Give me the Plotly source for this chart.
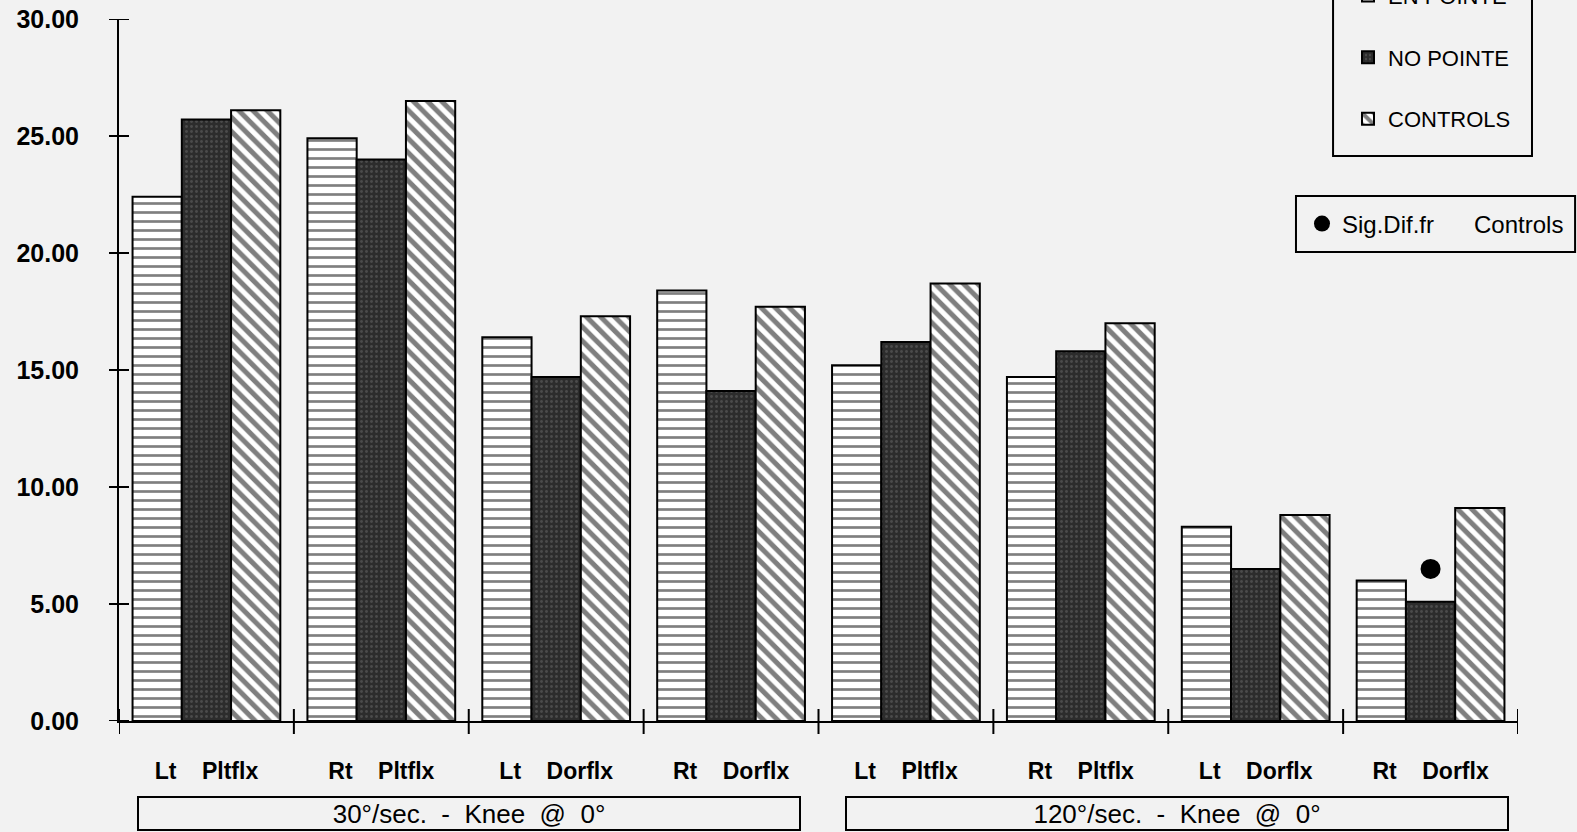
import plotly.graph_objects as go

# ---------------- data ----------------
groups = ["30°/sec.\u00a0\u00a0-\u00a0\u00a0Knee\u00a0\u00a0@\u00a0\u00a00°",
          "120°/sec.\u00a0\u00a0-\u00a0\u00a0Knee\u00a0\u00a0@\u00a0\u00a00°"]
movements = ["Lt\u00a0\u00a0\u00a0\u00a0Pltflx", "Rt\u00a0\u00a0\u00a0\u00a0Pltflx",
             "Lt\u00a0\u00a0\u00a0\u00a0Dorflx", "Rt\u00a0\u00a0\u00a0\u00a0Dorflx"]
series_names = ["EN POINTE", "NO POINTE", "CONTROLS"]
en_pointe = [22.4, 24.9, 16.4, 18.4, 15.2, 14.7, 8.3, 6.0]
no_pointe = [25.7, 24.0, 14.7, 14.1, 16.2, 15.8, 6.5, 5.1]
controls = [26.1, 26.5, 17.3, 17.7, 18.7, 17.0, 8.8, 9.1]
sig_label = "Sig.Dif.fr\u00a0\u00a0\u00a0\u00a0\u00a0\u00a0Controls"
sig_category_index = [7]
sig_values = [6.5]
y_ticks = [0, 5, 10, 15, 20, 25, 30]

# category keys (unique) and displayed labels
cat_keys = [f"{g}|{m}" for g in groups for m in movements]
cat_labels = [m for g in groups for m in movements]

BG = "#f2f2f2"
FONT = "Liberation Sans, Arial, Helvetica, sans-serif"
CLEAR = "rgba(0,0,0,0)"

patterns = [
    dict(shape="-", bgcolor="white", fgcolor="black", size=9, solidity=0.3),
    dict(shape=".", bgcolor="#2c2c2c", fgcolor="#6a6a6a", size=5, solidity=0.25),
    dict(shape="\\", bgcolor="white", fgcolor="black", size=10, solidity=0.5),
]

fig = go.Figure()
for name, vals, pat in zip(series_names, [en_pointe, no_pointe, controls], patterns):
    fig.add_trace(go.Bar(
        x=cat_keys, y=vals, name=name,
        marker=dict(color=pat["bgcolor"], pattern=pat,
                    line=dict(color="black", width=2)),
        legendgroup=name, legend="legend",
    ))

fig.add_trace(go.Scatter(
    x=[cat_keys[i] for i in sig_category_index], y=sig_values,
    mode="markers", name=sig_label,
    marker=dict(symbol="circle", size=20, color="black"),
    legend="legend2",
))

# group label boxes
box_centers = [0.25, 0.756]
for g, cx in zip(groups, box_centers):
    fig.add_annotation(
        text=g, xref="paper", yref="paper", x=cx, y=-0.132,
        xanchor="center", yanchor="middle", showarrow=False,
        width=658, height=29, bordercolor="black", borderwidth=2,
        font=dict(family=FONT, size=26, color="black"),
    )

# axis ticks that cross the axis lines
for v in y_ticks:
    fig.add_shape(type="line", xref="paper", yref="y", xsizemode="pixel",
                  xanchor=0, x0=-10, x1=10, y0=v, y1=v,
                  line=dict(color="black", width=2))
for i in range(len(cat_keys) + 1):
    fig.add_shape(type="line", xref="x", yref="paper", ysizemode="pixel",
                  yanchor=0, y0=-13, y1=12, x0=i - 0.5, x1=i - 0.5,
                  line=dict(color="black", width=2))

# legend frames
fig.add_shape(type="rect", xref="paper", yref="paper",
              x0=0.8678, x1=1.010, y0=0.8048, y1=1.1,
              fillcolor=BG, line=dict(color="black", width=2), layer="above")
fig.add_shape(type="rect", xref="paper", yref="paper",
              x0=0.8413, x1=1.0408, y0=0.668, y1=0.748,
              fillcolor=BG, line=dict(color="black", width=2), layer="above")

fig.update_layout(
    width=1577, height=832,
    paper_bgcolor=BG, plot_bgcolor=BG,
    margin=dict(l=119, r=59, t=19, b=111, autoexpand=False),
    barmode="group", bargap=0.155, bargroupgap=0,
    font=dict(family=FONT, color="black"),
    xaxis=dict(
        type="category", categoryorder="array", categoryarray=cat_keys,
        tickmode="array", tickvals=cat_keys, ticktext=cat_labels,
        ticks="", showline=True, linecolor="black", linewidth=2,
        showgrid=False, zeroline=False, range=[-0.5, 7.5],
        tickfont=dict(family=FONT, size=23, color="black", weight="bold"),
        ticklabelstandoff=28,
    ),
    yaxis=dict(
        range=[0, 30], tickmode="array", tickvals=y_ticks, tickformat=".2f",
        ticks="", showline=True, linecolor="black", linewidth=2,
        showgrid=False, zeroline=False,
        tickfont=dict(family=FONT, size=25, color="black", weight="bold"),
        ticklabelstandoff=33,
    ),
    legend=dict(
        x=0.8785, y=0.828, xanchor="left", yanchor="bottom",
        bgcolor=CLEAR, borderwidth=0,
        font=dict(family=FONT, size=22, color="black"),
        traceorder="grouped", tracegroupgap=30,
        itemclick=False,
    ),
    legend2=dict(
        x=0.8456, y=0.708, xanchor="left", yanchor="middle",
        bgcolor=CLEAR, borderwidth=0,
        font=dict(family=FONT, size=24, color="black"),
        itemclick=False,
    ),
    showlegend=True,
)

fig.write_html("out.html", config={"displayModeBar": False},
               post_script="document.body.style.margin='0';")
